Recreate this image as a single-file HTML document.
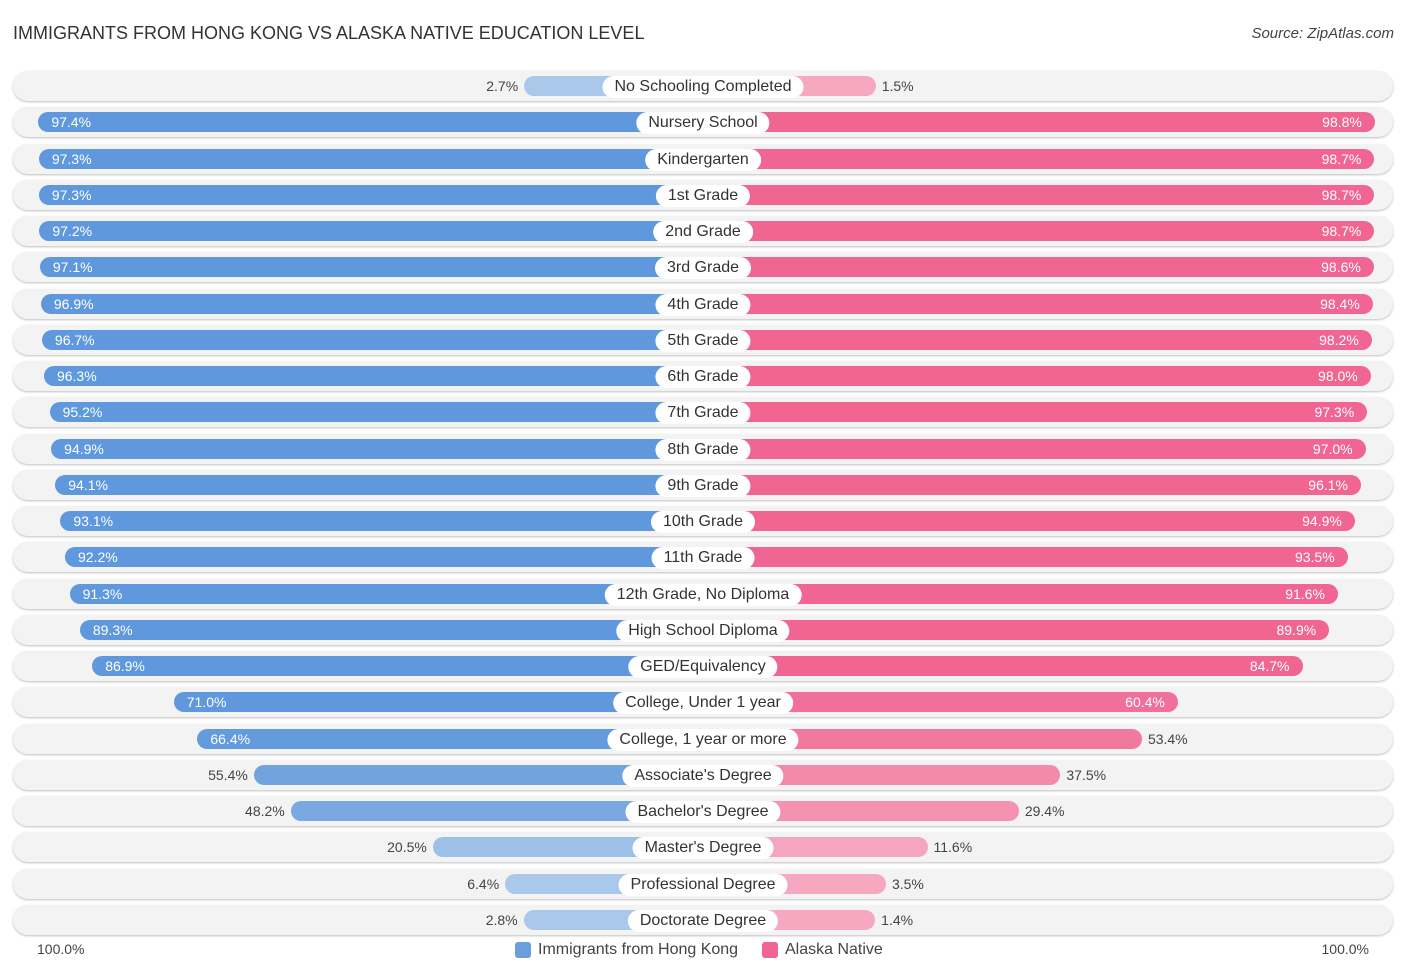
<!DOCTYPE html>
<html><head><meta charset="utf-8"><style>
body{margin:0;width:1406px;height:975px;background:#fff;font-family:"Liberation Sans",sans-serif;position:relative;overflow:hidden}
.t{position:absolute;left:13px;top:23px;font-size:18px;color:#333}
.s{position:absolute;right:12px;top:25px;font-size:15px;color:#444;font-style:italic}
.row{position:absolute;left:13px;width:1380px;height:30px;border-radius:15px;background:#f3f3f3;box-shadow:0 1px 2px rgba(0,0,0,.25)}
.bar{position:absolute;height:20px;border-radius:10px}
.lab{position:absolute;height:22px;line-height:22px;padding:0 12px;background:#fff;border-radius:11px;font-size:16px;color:#333;transform:translateX(-50%);white-space:nowrap}
.v{position:absolute;font-size:14px;line-height:20px}
.ax{position:absolute;top:941px;font-size:14px;color:#444}
.lg{position:absolute;top:941px;font-size:16px;color:#444;display:flex;align-items:center}
.lg i{display:inline-block;width:16px;height:16px;border-radius:3px;margin-right:7px}
</style></head><body>
<div class="t">IMMIGRANTS FROM HONG KONG VS ALASKA NATIVE EDUCATION LEVEL</div>
<div class="s">Source: ZipAtlas.com</div>
<div id="chart"></div>
<div class="ax" style="left:37px">100.0%</div>
<div class="ax" style="right:37px">100.0%</div>
<div class="lg" style="left:515px"><i style="background:#6a9fdc"></i>Immigrants from Hong Kong</div>
<div class="lg" style="left:762px"><i style="background:#f06592"></i>Alaska Native</div>
<script>
const categories=["No Schooling Completed","Nursery School","Kindergarten","1st Grade","2nd Grade","3rd Grade","4th Grade","5th Grade","6th Grade","7th Grade","8th Grade","9th Grade","10th Grade","11th Grade","12th Grade, No Diploma","High School Diploma","GED/Equivalency","College, Under 1 year","College, 1 year or more","Associate's Degree","Bachelor's Degree","Master's Degree","Professional Degree","Doctorate Degree"];
const hongKong=[2.7,97.4,97.3,97.3,97.2,97.1,96.9,96.7,96.3,95.2,94.9,94.1,93.1,92.2,91.3,89.3,86.9,71.0,66.4,55.4,48.2,20.5,6.4,2.8];
const alaskaNative=[1.5,98.8,98.7,98.7,98.7,98.6,98.4,98.2,98.0,97.3,97.0,96.1,94.9,93.5,91.6,89.9,84.7,60.4,53.4,37.5,29.4,11.6,3.5,1.4];
const C=703,Y0=86,DY=36.26;
function half(v){return 165+v*5.13;}
function mix(a,b,t){return 'rgb('+a.map((x,i)=>Math.round(x+(b[i]-x)*t)).join(',')+')';}
const chart=document.getElementById('chart');
categories.forEach((cat,i)=>{
  const y=Y0+i*DY;
  const row=document.createElement('div');row.className='row';row.style.top=(y-15)+'px';
  
  
  chart.appendChild(row);
  [[hongKong[i],-1,[169,200,234],[95,152,220]],[alaskaNative[i],1,[245,168,192],[240,101,146]]].forEach(([v,d,lc,dc])=>{
    const w=half(v),t=Math.min(1,Math.max(0,(v-10)/60));
    const b=document.createElement('div');b.className='bar';
    
    
    b.style.top=(y-10)+'px';b.style.width=w+'px';b.style.left=(d<0?C-w:C)+'px';b.style.background=mix(lc,dc,t);
    chart.appendChild(b);
    const l=document.createElement('div');l.className='v';l.textContent=v.toFixed(1)+'%';
    
    
    l.style.top=(y-10)+'px';
    const inside=v>=60;
    l.style.color=inside?'#fff':'#444';
    if(d<0){ if(inside) l.style.left=(C-w+13)+'px'; else l.style.right=(1406-(C-w)+6)+'px'; }
    else { if(inside) l.style.right=(1406-(C+w)+13)+'px'; else l.style.left=(C+w+6)+'px'; }
    chart.appendChild(l);
  });
  const lb=document.createElement('div');lb.className='lab';lb.textContent=cat;
  
  
  lb.style.left=C+'px';lb.style.top=(y-10)+'px';
  chart.appendChild(lb);
});
</script>
</body></html>
